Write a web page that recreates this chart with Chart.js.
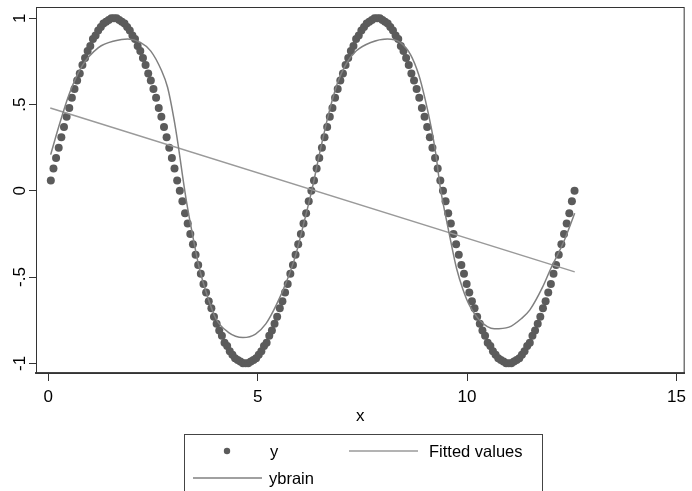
<!DOCTYPE html>
<html>
<head>
<meta charset="utf-8">
<script src="https://cdn.jsdelivr.net/npm/chart.js@4"></script>
<style>
  body { margin: 0; background: #fff; }
</style>
</head>
<body>
<canvas id="chart" width="692" height="491"></canvas>
<script>
// ===============================
// data
// ===============================
const xValues = [
  0.063, 0.126, 0.188, 0.251, 0.314, 0.377, 0.440, 0.503, 0.565, 0.628,
  0.691, 0.754, 0.817, 0.880, 0.942, 1.005, 1.068, 1.131, 1.194, 1.257,
  1.319, 1.382, 1.445, 1.508, 1.571, 1.634, 1.696, 1.759, 1.822, 1.885,
  1.948, 2.011, 2.073, 2.136, 2.199, 2.262, 2.325, 2.388, 2.450, 2.513,
  2.576, 2.639, 2.702, 2.765, 2.827, 2.890, 2.953, 3.016, 3.079, 3.142,
  3.204, 3.267, 3.330, 3.393, 3.456, 3.519, 3.581, 3.644, 3.707, 3.770,
  3.833, 3.896, 3.958, 4.021, 4.084, 4.147, 4.210, 4.273, 4.335, 4.398,
  4.461, 4.524, 4.587, 4.650, 4.712, 4.775, 4.838, 4.901, 4.964, 5.027,
  5.089, 5.152, 5.215, 5.278, 5.341, 5.404, 5.466, 5.529, 5.592, 5.655,
  5.718, 5.781, 5.843, 5.906, 5.969, 6.032, 6.095, 6.158, 6.220, 6.283,
  6.346, 6.409, 6.472, 6.535, 6.597, 6.660, 6.723, 6.786, 6.849, 6.912,
  6.974, 7.037, 7.100, 7.163, 7.226, 7.288, 7.351, 7.414, 7.477, 7.540,
  7.603, 7.665, 7.728, 7.791, 7.854, 7.917, 7.980, 8.042, 8.105, 8.168,
  8.231, 8.294, 8.357, 8.419, 8.482, 8.545, 8.608, 8.671, 8.734, 8.796,
  8.859, 8.922, 8.985, 9.048, 9.111, 9.173, 9.236, 9.299, 9.362, 9.425,
  9.487, 9.550, 9.613, 9.676, 9.739, 9.802, 9.864, 9.927, 9.990, 10.053,
  10.116, 10.179, 10.241, 10.304, 10.367, 10.430, 10.493, 10.556, 10.618, 10.681,
  10.744, 10.807, 10.870, 10.933, 10.996, 11.058, 11.121, 11.184, 11.247, 11.310,
  11.372, 11.435, 11.498, 11.561, 11.624, 11.687, 11.749, 11.812, 11.875, 11.938,
  12.001, 12.064, 12.126, 12.189, 12.252, 12.315, 12.378, 12.441, 12.503, 12.566
];

const yValues = [
  0.06, 0.13, 0.19, 0.25, 0.31, 0.37, 0.43, 0.48, 0.54, 0.59,
  0.64, 0.68, 0.73, 0.77, 0.81, 0.84, 0.88, 0.90, 0.93, 0.95,
  0.97, 0.98, 0.99, 1.00, 1.00, 1.00, 0.99, 0.98, 0.97, 0.95,
  0.93, 0.90, 0.88, 0.84, 0.81, 0.77, 0.73, 0.68, 0.64, 0.59,
  0.54, 0.48, 0.43, 0.37, 0.31, 0.25, 0.19, 0.13, 0.06, 0.00,
  -0.06, -0.13, -0.19, -0.25, -0.31, -0.37, -0.43, -0.48, -0.54, -0.59,
  -0.64, -0.68, -0.73, -0.77, -0.81, -0.84, -0.88, -0.90, -0.93, -0.95,
  -0.97, -0.98, -0.99, -1.00, -1.00, -1.00, -0.99, -0.98, -0.97, -0.95,
  -0.93, -0.90, -0.88, -0.84, -0.81, -0.77, -0.73, -0.68, -0.64, -0.59,
  -0.54, -0.48, -0.43, -0.37, -0.31, -0.25, -0.19, -0.13, -0.06, 0.00,
  0.06, 0.13, 0.19, 0.25, 0.31, 0.37, 0.43, 0.48, 0.54, 0.59,
  0.64, 0.68, 0.73, 0.77, 0.81, 0.84, 0.88, 0.90, 0.93, 0.95,
  0.97, 0.98, 0.99, 1.00, 1.00, 1.00, 0.99, 0.98, 0.97, 0.95,
  0.93, 0.90, 0.88, 0.84, 0.81, 0.77, 0.73, 0.68, 0.64, 0.59,
  0.54, 0.48, 0.43, 0.37, 0.31, 0.25, 0.19, 0.13, 0.06, 0.00,
  -0.06, -0.13, -0.19, -0.25, -0.31, -0.37, -0.43, -0.48, -0.54, -0.59,
  -0.64, -0.68, -0.73, -0.77, -0.81, -0.84, -0.88, -0.90, -0.93, -0.95,
  -0.97, -0.98, -0.99, -1.00, -1.00, -1.00, -0.99, -0.98, -0.97, -0.95,
  -0.93, -0.90, -0.88, -0.84, -0.81, -0.77, -0.73, -0.68, -0.64, -0.59,
  -0.54, -0.48, -0.43, -0.37, -0.31, -0.25, -0.19, -0.13, -0.06, 0.00
];

// linear fit, two ends
const fitX = [0.05, 12.57];
const fitY = [0.48, -0.47];

// ybrain curve
const brainX = [
  0.06, 0.25, 0.5, 0.8, 1.2, 1.6, 1.9, 2.2, 2.45, 2.7,
  2.85, 3.0, 3.1, 3.2, 3.3, 3.45, 3.6, 3.8, 4.0, 4.3,
  4.65, 4.95, 5.2, 5.45, 5.7, 5.9, 6.1, 6.3, 6.5, 6.7,
  6.9, 7.1, 7.35, 7.7, 8.1, 8.4, 8.65, 8.85, 9.0, 9.15,
  9.25, 9.36, 9.5, 9.6, 9.75, 9.9, 10.05, 10.3, 10.65, 11.0,
  11.3, 11.5, 11.8, 12.0, 12.3, 12.57
];
const brainY = [
  0.21, 0.37, 0.56, 0.72, 0.83, 0.87, 0.88, 0.86, 0.81, 0.70,
  0.60, 0.42, 0.27, 0.10, -0.06, -0.26, -0.44, -0.61, -0.74, -0.82,
  -0.85, -0.83, -0.77, -0.66, -0.52, -0.38, -0.19, 0.01, 0.24, 0.45,
  0.62, 0.73, 0.81, 0.86, 0.88, 0.86, 0.79, 0.67, 0.53, 0.36,
  0.22, 0.02, -0.16, -0.28, -0.45, -0.57, -0.66, -0.75, -0.80, -0.79,
  -0.74, -0.69, -0.56, -0.45, -0.30, -0.13
];

const xTicks = [0, 5, 10, 15];
const yTicks = [-1, -0.5, 0, 0.5, 1];
const yTickLabels = ['-1', '-.5', '0', '.5', '1'];
const seriesNames = ['y', 'Fitted values', 'ybrain'];

// ===============================
// colours / fonts
// ===============================
const DOT = '#5b5b5b';
const FIT = '#9a9a9a';
const BRAIN = '#808080';
const FONT = '"Liberation Sans", Arial, sans-serif';

const pts = (xs, ys) => xs.map((x, i) => ({ x: x, y: ys[i] }));

// frame, rotated y labels and the Stata-style legend
const extras = {
    id: 'extras',
    afterDraw(chart) {
        const ctx = chart.ctx;
        const a = chart.chartArea;
        const ys = chart.scales.y;

        ctx.save();
        ctx.strokeStyle = '#333';
        ctx.lineWidth = 1;
        ctx.strokeRect(a.left + 0.5, a.top + 0.5, a.right - a.left - 1, a.bottom - a.top);

        // y tick labels, rotated
        ctx.fillStyle = '#000';
        ctx.font = '17px ' + FONT;
        ctx.textAlign = 'center';
        ctx.textBaseline = 'alphabetic';
        yTicks.forEach((v, i) => {
            const py = ys.getPixelForValue(v);
            ctx.save();
            ctx.translate(25, py);
            ctx.rotate(-Math.PI / 2);
            ctx.fillText(yTickLabels[i], 0, 0);
            ctx.restore();
        });

        // legend
        ctx.strokeStyle = '#444';
        ctx.strokeRect(184.5, 434.5, 358, 70);
        ctx.font = '16.5px ' + FONT;
        ctx.textAlign = 'left';
        ctx.textBaseline = 'middle';

        ctx.fillStyle = DOT;
        ctx.beginPath();
        ctx.arc(227, 451, 3.2, 0, Math.PI * 2);
        ctx.fill();

        ctx.lineWidth = 1.5;
        ctx.strokeStyle = FIT;
        ctx.beginPath();
        ctx.moveTo(349, 451);
        ctx.lineTo(418, 451);
        ctx.stroke();

        ctx.strokeStyle = BRAIN;
        ctx.beginPath();
        ctx.moveTo(193, 478);
        ctx.lineTo(262, 478);
        ctx.stroke();

        ctx.fillStyle = '#000';
        ctx.fillText(seriesNames[0], 270, 452);
        ctx.fillText(seriesNames[1], 429, 452);
        ctx.fillText(seriesNames[2], 269, 479);
        ctx.restore();
    }
};

new Chart(document.getElementById('chart'), {
    type: 'scatter',
    data: {
        datasets: [
            {
                label: seriesNames[0],
                data: pts(xValues, yValues),
                pointRadius: 4,
                pointBackgroundColor: DOT,
                pointBorderWidth: 0,
                showLine: false,
                order: 3
            },
            {
                label: seriesNames[1],
                data: pts(fitX, fitY),
                showLine: true,
                borderColor: FIT,
                borderWidth: 1.5,
                pointRadius: 0,
                order: 2
            },
            {
                label: seriesNames[2],
                data: pts(brainX, brainY),
                showLine: true,
                borderColor: BRAIN,
                borderWidth: 1.5,
                pointRadius: 0,
                cubicInterpolationMode: 'monotone',
                order: 1
            }
        ]
    },
    options: {
        responsive: false,
        animation: false,
        devicePixelRatio: 1,
        layout: { padding: { top: 7, right: 2, left: 0, bottom: 0 } },
        plugins: {
            legend: { display: false },
            tooltip: { enabled: false }
        },
        scales: {
            x: {
                type: 'linear',
                min: -0.291,
                max: 15.195,
                afterBuildTicks: s => { s.ticks = xTicks.map(v => ({ value: v })); },
                afterFit: s => { s.height = 118; },
                ticks: {
                    color: '#000',
                    font: { family: FONT, size: 17 },
                    padding: 6,
                    maxRotation: 0,
                    callback: v => String(v)
                },
                grid: { drawOnChartArea: false, tickLength: 8, color: '#333', tickWidth: 1 },
                border: { display: true, color: '#444', width: 2 },
                title: {
                    display: true,
                    text: 'x',
                    color: '#000',
                    font: { family: FONT, size: 17 },
                    padding: { top: 0, bottom: 64 }
                }
            },
            y: {
                type: 'linear',
                min: -1.056,
                max: 1.0655,
                afterBuildTicks: s => { s.ticks = yTicks.map(v => ({ value: v })); },
                afterFit: s => { s.width = 36; },
                ticks: { display: false },
                grid: { drawOnChartArea: false, tickLength: 7, color: '#333', tickWidth: 1 },
                border: { display: true, color: '#333', width: 1 }
            }
        }
    },
    plugins: [extras]
});
</script>
</body>
</html>
